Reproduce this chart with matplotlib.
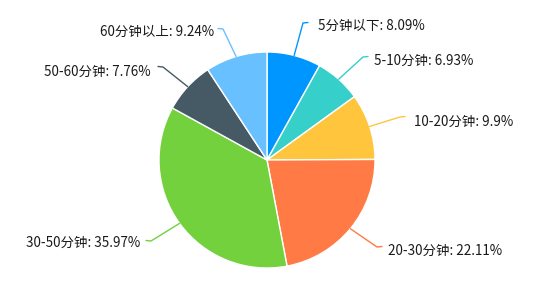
import matplotlib
matplotlib.use("Agg")
import matplotlib.pyplot as plt
import numpy as np

plt.rcParams['font.family'] = ['Noto Sans CJK SC', 'DejaVu Sans']

categories = ["5分钟以下", "5-10分钟", "10-20分钟", "20-30分钟", "30-50分钟", "50-60分钟", "60分钟以上"]
values = [8.09, 6.93, 9.9, 22.11, 35.97, 7.76, 9.24]
colors = ["#0096ff", "#36cfc9", "#ffc53d", "#ff7a45", "#73d13d", "#465a65", "#69c0ff"]

W, H = 560, 286
fig = plt.figure(figsize=(W / 100, H / 100), dpi=100)
ax = fig.add_axes([0, 0, 1, 1])

cx, cy, R = 267, 160, 108  # pixel coords (y down)

def P(x, y):
    return (x, H - y)

wedges, _ = ax.pie(values, colors=colors, startangle=90, counterclock=False,
                   center=P(cx, cy), radius=R,
                   wedgeprops=dict(edgecolor="white", linewidth=1.0))

# layout: elbow point of leader line (pixels), text anchor (pixels), side
elbows = [(303, 23), (363, 57), (400, 117), (377, 247), (151, 241), (163, 67), (223, 29)]
texts = [(318, 26), (374, 61), (414, 122), (388, 251), (140, 243), (151, 72), (214, 32)]
sides = ['left', 'left', 'left', 'left', 'right', 'right', 'right']

cum = np.cumsum([0] + values)
for i, (cat, v) in enumerate(zip(categories, values)):
    mid = (cum[i] + cum[i + 1]) / 2 / 100 * 2 * np.pi
    ex = cx + R * np.sin(mid)
    ey = cy - R * np.cos(mid)
    bx, by = elbows[i]
    d = 5 if sides[i] == 'left' else -5
    xs = [ex, bx, bx + d]
    ys = [ey, by, by - 0.5]
    pts = [P(x, y) for x, y in zip(xs, ys)]
    ax.plot([p[0] for p in pts], [p[1] for p in pts], color=colors[i], lw=1.0,
            solid_capstyle='round', solid_joinstyle='round')
    tx, ty = texts[i]
    ax.text(*P(tx, ty), f"{cat}: {v}%", ha=sides[i], va='center', fontsize=9.7, color="#1a1a1a")

ax.set_xlim(0, W)
ax.set_ylim(0, H)
ax.set_aspect('equal')
ax.axis('off')
fig.savefig("out.png", dpi=100)
